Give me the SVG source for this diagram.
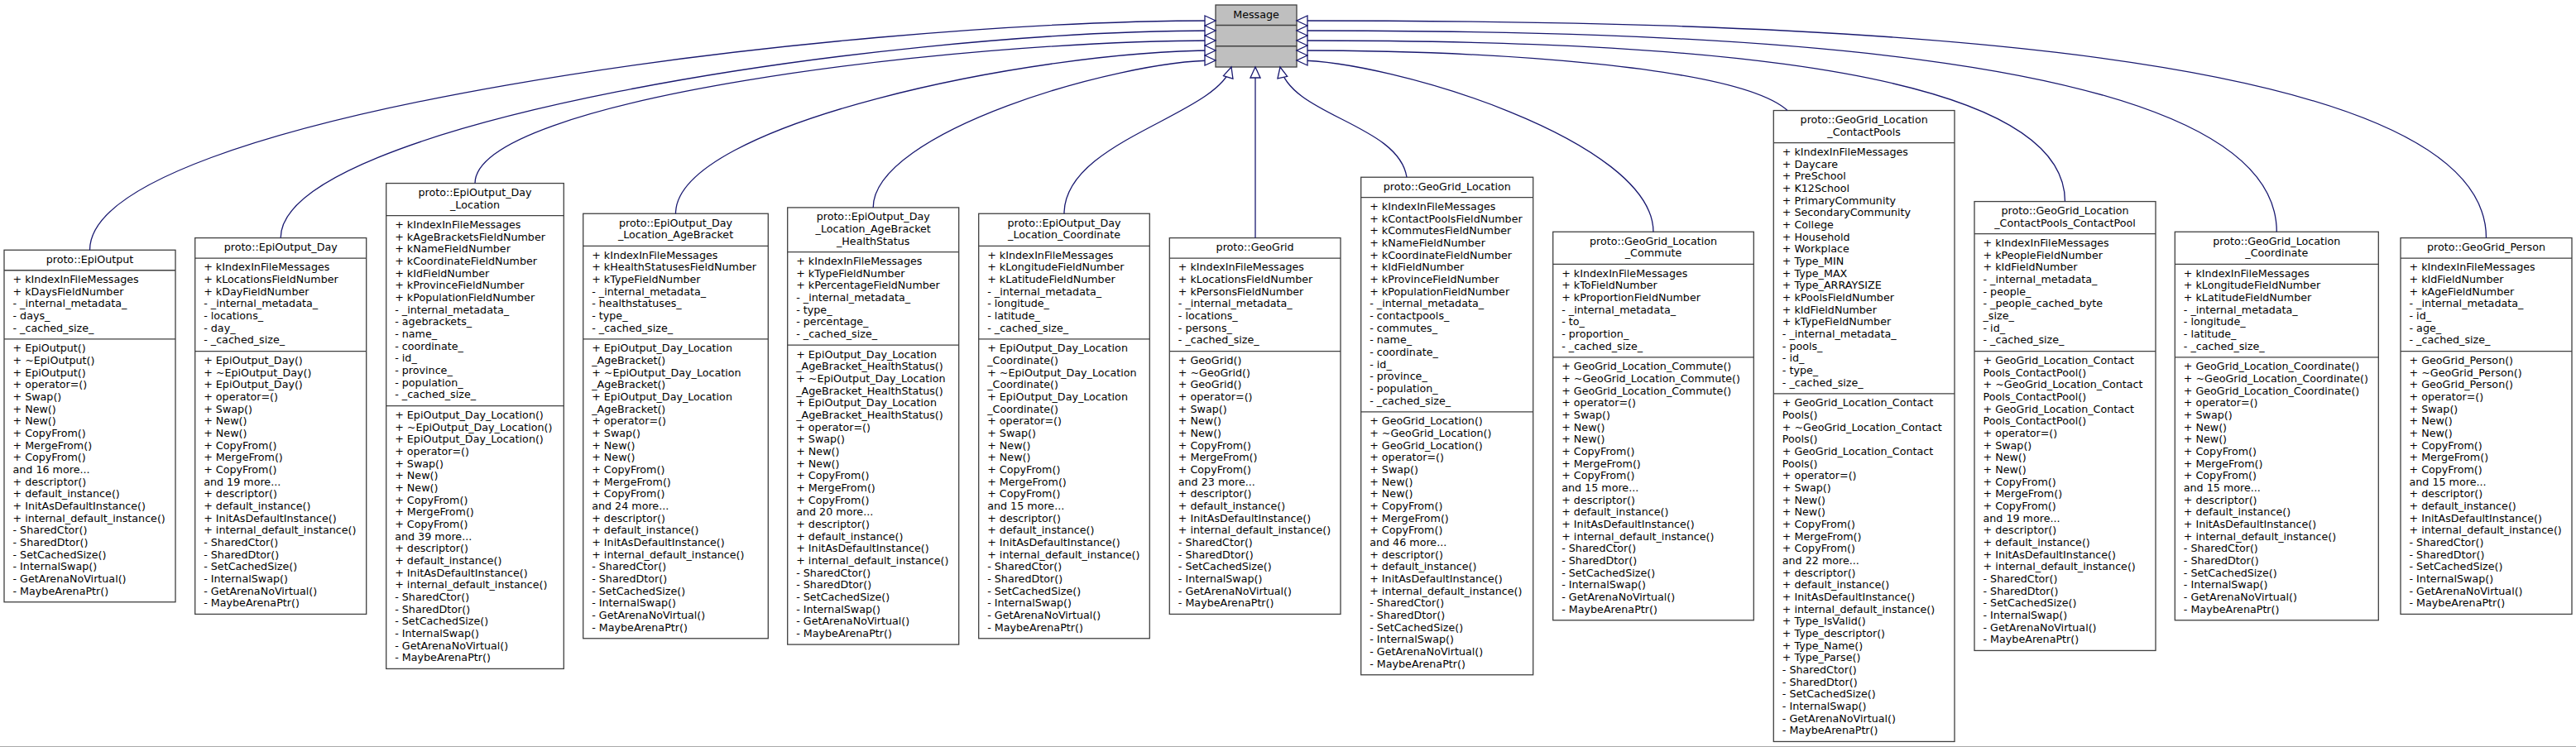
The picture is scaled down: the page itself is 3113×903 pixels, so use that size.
<svg xmlns="http://www.w3.org/2000/svg" width="3113" height="903" viewBox="0 0 3113 903">
<style>
.b{fill:#fff;stroke:#404040;stroke-width:1.3}
.m{fill:#bfbfbf;stroke:#404040;stroke-width:1.3}
.d{stroke:#404040;stroke-width:1.3;fill:none}
text{font-family:"DejaVu Sans",Verdana,sans-serif;font-size:12.7px;fill:#000}
.h{text-anchor:middle}
.e{fill:none;stroke:#191970;stroke-width:1.3;marker-end:url(#arr)}
</style>
<defs>
<marker id="arr" markerUnits="userSpaceOnUse" markerWidth="16" markerHeight="14" refX="13" refY="6" orient="auto" viewBox="-1 -1 16 14"><path d="M0,0 L13,6 L0,12 Z" fill="#fff" stroke="#191970" stroke-width="1.3"/></marker>
</defs>
<rect width="3113" height="903" fill="#fff"/>
<line x1="0" y1="902.5" x2="3113" y2="902.5" stroke="#aaa" stroke-width="1"/>

<g id="Message">
<rect class="m" x="1469" y="6" width="98" height="75"/>
<path class="d" d="M1469,30.5H1567M1469,55.75H1567"/>
<text class="h" x="1518" y="21.9">Message</text>
</g>

<g id="EpiOutput">
<rect class="b" x="5" y="302.26" width="207" height="425.49"/>
<path class="d" d="M5,326.73H212M5,409.88H212"/>
<text class="h" x="108.5" y="317.66">proto::EpiOutput</text>
<text x="15.5" y="342.13"><tspan>+ kIndexInFileMessages</tspan><tspan x="15.5" dy="14.67">+ kDaysFieldNumber</tspan><tspan x="15.5" dy="14.67">- _internal_metadata_</tspan><tspan x="15.5" dy="14.67">- days_</tspan><tspan x="15.5" dy="14.67">- _cached_size_</tspan></text>
<text x="15.5" y="425.28"><tspan>+ EpiOutput()</tspan><tspan x="15.5" dy="14.67">+ ~EpiOutput()</tspan><tspan x="15.5" dy="14.67">+ EpiOutput()</tspan><tspan x="15.5" dy="14.67">+ operator=()</tspan><tspan x="15.5" dy="14.67">+ Swap()</tspan><tspan x="15.5" dy="14.67">+ New()</tspan><tspan x="15.5" dy="14.67">+ New()</tspan><tspan x="15.5" dy="14.67">+ CopyFrom()</tspan><tspan x="15.5" dy="14.67">+ MergeFrom()</tspan><tspan x="15.5" dy="14.67">+ CopyFrom()</tspan><tspan x="15.5" dy="14.67">and 16 more...</tspan><tspan x="15.5" dy="14.67">+ descriptor()</tspan><tspan x="15.5" dy="14.67">+ default_instance()</tspan><tspan x="15.5" dy="14.67">+ InitAsDefaultInstance()</tspan><tspan x="15.5" dy="14.67">+ internal_default_instance()</tspan><tspan x="15.5" dy="14.67">- SharedCtor()</tspan><tspan x="15.5" dy="14.67">- SharedDtor()</tspan><tspan x="15.5" dy="14.67">- SetCachedSize()</tspan><tspan x="15.5" dy="14.67">- InternalSwap()</tspan><tspan x="15.5" dy="14.67">- GetArenaNoVirtual()</tspan><tspan x="15.5" dy="14.67">- MaybeArenaPtr()</tspan></text>
</g>

<g id="EpiOutput_Day">
<rect class="b" x="235.7" y="287.59" width="207" height="454.83"/>
<path class="d" d="M235.7,312.06H442.7M235.7,424.55H442.7"/>
<text class="h" x="339.2" y="302.99">proto::EpiOutput_Day</text>
<text x="246.2" y="327.46"><tspan>+ kIndexInFileMessages</tspan><tspan x="246.2" dy="14.67">+ kLocationsFieldNumber</tspan><tspan x="246.2" dy="14.67">+ kDayFieldNumber</tspan><tspan x="246.2" dy="14.67">- _internal_metadata_</tspan><tspan x="246.2" dy="14.67">- locations_</tspan><tspan x="246.2" dy="14.67">- day_</tspan><tspan x="246.2" dy="14.67">- _cached_size_</tspan></text>
<text x="246.2" y="439.95"><tspan>+ EpiOutput_Day()</tspan><tspan x="246.2" dy="14.67">+ ~EpiOutput_Day()</tspan><tspan x="246.2" dy="14.67">+ EpiOutput_Day()</tspan><tspan x="246.2" dy="14.67">+ operator=()</tspan><tspan x="246.2" dy="14.67">+ Swap()</tspan><tspan x="246.2" dy="14.67">+ New()</tspan><tspan x="246.2" dy="14.67">+ New()</tspan><tspan x="246.2" dy="14.67">+ CopyFrom()</tspan><tspan x="246.2" dy="14.67">+ MergeFrom()</tspan><tspan x="246.2" dy="14.67">+ CopyFrom()</tspan><tspan x="246.2" dy="14.67">and 19 more...</tspan><tspan x="246.2" dy="14.67">+ descriptor()</tspan><tspan x="246.2" dy="14.67">+ default_instance()</tspan><tspan x="246.2" dy="14.67">+ InitAsDefaultInstance()</tspan><tspan x="246.2" dy="14.67">+ internal_default_instance()</tspan><tspan x="246.2" dy="14.67">- SharedCtor()</tspan><tspan x="246.2" dy="14.67">- SharedDtor()</tspan><tspan x="246.2" dy="14.67">- SetCachedSize()</tspan><tspan x="246.2" dy="14.67">- InternalSwap()</tspan><tspan x="246.2" dy="14.67">- GetArenaNoVirtual()</tspan><tspan x="246.2" dy="14.67">- MaybeArenaPtr()</tspan></text>
</g>

<g id="EpiOutput_Day_Location">
<rect class="b" x="466.7" y="221.57" width="214.6" height="586.86"/>
<path class="d" d="M466.7,260.71H681.3M466.7,490.56H681.3"/>
<text class="h" x="574" y="236.97"><tspan>proto::EpiOutput_Day</tspan><tspan x="574" dy="14.67">_Location</tspan></text>
<text x="477.2" y="276.11"><tspan>+ kIndexInFileMessages</tspan><tspan x="477.2" dy="14.67">+ kAgeBracketsFieldNumber</tspan><tspan x="477.2" dy="14.67">+ kNameFieldNumber</tspan><tspan x="477.2" dy="14.67">+ kCoordinateFieldNumber</tspan><tspan x="477.2" dy="14.67">+ kIdFieldNumber</tspan><tspan x="477.2" dy="14.67">+ kProvinceFieldNumber</tspan><tspan x="477.2" dy="14.67">+ kPopulationFieldNumber</tspan><tspan x="477.2" dy="14.67">- _internal_metadata_</tspan><tspan x="477.2" dy="14.67">- agebrackets_</tspan><tspan x="477.2" dy="14.67">- name_</tspan><tspan x="477.2" dy="14.67">- coordinate_</tspan><tspan x="477.2" dy="14.67">- id_</tspan><tspan x="477.2" dy="14.67">- province_</tspan><tspan x="477.2" dy="14.67">- population_</tspan><tspan x="477.2" dy="14.67">- _cached_size_</tspan></text>
<text x="477.2" y="505.96"><tspan>+ EpiOutput_Day_Location()</tspan><tspan x="477.2" dy="14.67">+ ~EpiOutput_Day_Location()</tspan><tspan x="477.2" dy="14.67">+ EpiOutput_Day_Location()</tspan><tspan x="477.2" dy="14.67">+ operator=()</tspan><tspan x="477.2" dy="14.67">+ Swap()</tspan><tspan x="477.2" dy="14.67">+ New()</tspan><tspan x="477.2" dy="14.67">+ New()</tspan><tspan x="477.2" dy="14.67">+ CopyFrom()</tspan><tspan x="477.2" dy="14.67">+ MergeFrom()</tspan><tspan x="477.2" dy="14.67">+ CopyFrom()</tspan><tspan x="477.2" dy="14.67">and 39 more...</tspan><tspan x="477.2" dy="14.67">+ descriptor()</tspan><tspan x="477.2" dy="14.67">+ default_instance()</tspan><tspan x="477.2" dy="14.67">+ InitAsDefaultInstance()</tspan><tspan x="477.2" dy="14.67">+ internal_default_instance()</tspan><tspan x="477.2" dy="14.67">- SharedCtor()</tspan><tspan x="477.2" dy="14.67">- SharedDtor()</tspan><tspan x="477.2" dy="14.67">- SetCachedSize()</tspan><tspan x="477.2" dy="14.67">- InternalSwap()</tspan><tspan x="477.2" dy="14.67">- GetArenaNoVirtual()</tspan><tspan x="477.2" dy="14.67">- MaybeArenaPtr()</tspan></text>
</g>

<g id="EpiOutput_Day_Location_AgeBracket">
<rect class="b" x="704.7" y="258.25" width="223.6" height="513.51"/>
<path class="d" d="M704.7,297.39H928.3M704.7,409.88H928.3"/>
<text class="h" x="816.5" y="273.65"><tspan>proto::EpiOutput_Day</tspan><tspan x="816.5" dy="14.67">_Location_AgeBracket</tspan></text>
<text x="715.2" y="312.79"><tspan>+ kIndexInFileMessages</tspan><tspan x="715.2" dy="14.67">+ kHealthStatusesFieldNumber</tspan><tspan x="715.2" dy="14.67">+ kTypeFieldNumber</tspan><tspan x="715.2" dy="14.67">- _internal_metadata_</tspan><tspan x="715.2" dy="14.67">- healthstatuses_</tspan><tspan x="715.2" dy="14.67">- type_</tspan><tspan x="715.2" dy="14.67">- _cached_size_</tspan></text>
<text x="715.2" y="425.28"><tspan>+ EpiOutput_Day_Location</tspan><tspan x="715.2" dy="14.67">_AgeBracket()</tspan><tspan x="715.2" dy="14.67">+ ~EpiOutput_Day_Location</tspan><tspan x="715.2" dy="14.67">_AgeBracket()</tspan><tspan x="715.2" dy="14.67">+ EpiOutput_Day_Location</tspan><tspan x="715.2" dy="14.67">_AgeBracket()</tspan><tspan x="715.2" dy="14.67">+ operator=()</tspan><tspan x="715.2" dy="14.67">+ Swap()</tspan><tspan x="715.2" dy="14.67">+ New()</tspan><tspan x="715.2" dy="14.67">+ New()</tspan><tspan x="715.2" dy="14.67">+ CopyFrom()</tspan><tspan x="715.2" dy="14.67">+ MergeFrom()</tspan><tspan x="715.2" dy="14.67">+ CopyFrom()</tspan><tspan x="715.2" dy="14.67">and 24 more...</tspan><tspan x="715.2" dy="14.67">+ descriptor()</tspan><tspan x="715.2" dy="14.67">+ default_instance()</tspan><tspan x="715.2" dy="14.67">+ InitAsDefaultInstance()</tspan><tspan x="715.2" dy="14.67">+ internal_default_instance()</tspan><tspan x="715.2" dy="14.67">- SharedCtor()</tspan><tspan x="715.2" dy="14.67">- SharedDtor()</tspan><tspan x="715.2" dy="14.67">- SetCachedSize()</tspan><tspan x="715.2" dy="14.67">- InternalSwap()</tspan><tspan x="715.2" dy="14.67">- GetArenaNoVirtual()</tspan><tspan x="715.2" dy="14.67">- MaybeArenaPtr()</tspan></text>
</g>

<g id="EpiOutput_Day_Location_AgeBracket_HealthStatus">
<rect class="b" x="951.7" y="250.91" width="207" height="528.18"/>
<path class="d" d="M951.7,304.72H1158.7M951.7,417.21H1158.7"/>
<text class="h" x="1055.2" y="266.31"><tspan>proto::EpiOutput_Day</tspan><tspan x="1055.2" dy="14.67">_Location_AgeBracket</tspan><tspan x="1055.2" dy="14.67">_HealthStatus</tspan></text>
<text x="962.2" y="320.12"><tspan>+ kIndexInFileMessages</tspan><tspan x="962.2" dy="14.67">+ kTypeFieldNumber</tspan><tspan x="962.2" dy="14.67">+ kPercentageFieldNumber</tspan><tspan x="962.2" dy="14.67">- _internal_metadata_</tspan><tspan x="962.2" dy="14.67">- type_</tspan><tspan x="962.2" dy="14.67">- percentage_</tspan><tspan x="962.2" dy="14.67">- _cached_size_</tspan></text>
<text x="962.2" y="432.61"><tspan>+ EpiOutput_Day_Location</tspan><tspan x="962.2" dy="14.67">_AgeBracket_HealthStatus()</tspan><tspan x="962.2" dy="14.67">+ ~EpiOutput_Day_Location</tspan><tspan x="962.2" dy="14.67">_AgeBracket_HealthStatus()</tspan><tspan x="962.2" dy="14.67">+ EpiOutput_Day_Location</tspan><tspan x="962.2" dy="14.67">_AgeBracket_HealthStatus()</tspan><tspan x="962.2" dy="14.67">+ operator=()</tspan><tspan x="962.2" dy="14.67">+ Swap()</tspan><tspan x="962.2" dy="14.67">+ New()</tspan><tspan x="962.2" dy="14.67">+ New()</tspan><tspan x="962.2" dy="14.67">+ CopyFrom()</tspan><tspan x="962.2" dy="14.67">+ MergeFrom()</tspan><tspan x="962.2" dy="14.67">+ CopyFrom()</tspan><tspan x="962.2" dy="14.67">and 20 more...</tspan><tspan x="962.2" dy="14.67">+ descriptor()</tspan><tspan x="962.2" dy="14.67">+ default_instance()</tspan><tspan x="962.2" dy="14.67">+ InitAsDefaultInstance()</tspan><tspan x="962.2" dy="14.67">+ internal_default_instance()</tspan><tspan x="962.2" dy="14.67">- SharedCtor()</tspan><tspan x="962.2" dy="14.67">- SharedDtor()</tspan><tspan x="962.2" dy="14.67">- SetCachedSize()</tspan><tspan x="962.2" dy="14.67">- InternalSwap()</tspan><tspan x="962.2" dy="14.67">- GetArenaNoVirtual()</tspan><tspan x="962.2" dy="14.67">- MaybeArenaPtr()</tspan></text>
</g>

<g id="EpiOutput_Day_Location_Coordinate">
<rect class="b" x="1182.7" y="258.25" width="206.6" height="513.51"/>
<path class="d" d="M1182.7,297.39H1389.3M1182.7,409.88H1389.3"/>
<text class="h" x="1286" y="273.65"><tspan>proto::EpiOutput_Day</tspan><tspan x="1286" dy="14.67">_Location_Coordinate</tspan></text>
<text x="1193.2" y="312.79"><tspan>+ kIndexInFileMessages</tspan><tspan x="1193.2" dy="14.67">+ kLongitudeFieldNumber</tspan><tspan x="1193.2" dy="14.67">+ kLatitudeFieldNumber</tspan><tspan x="1193.2" dy="14.67">- _internal_metadata_</tspan><tspan x="1193.2" dy="14.67">- longitude_</tspan><tspan x="1193.2" dy="14.67">- latitude_</tspan><tspan x="1193.2" dy="14.67">- _cached_size_</tspan></text>
<text x="1193.2" y="425.28"><tspan>+ EpiOutput_Day_Location</tspan><tspan x="1193.2" dy="14.67">_Coordinate()</tspan><tspan x="1193.2" dy="14.67">+ ~EpiOutput_Day_Location</tspan><tspan x="1193.2" dy="14.67">_Coordinate()</tspan><tspan x="1193.2" dy="14.67">+ EpiOutput_Day_Location</tspan><tspan x="1193.2" dy="14.67">_Coordinate()</tspan><tspan x="1193.2" dy="14.67">+ operator=()</tspan><tspan x="1193.2" dy="14.67">+ Swap()</tspan><tspan x="1193.2" dy="14.67">+ New()</tspan><tspan x="1193.2" dy="14.67">+ New()</tspan><tspan x="1193.2" dy="14.67">+ CopyFrom()</tspan><tspan x="1193.2" dy="14.67">+ MergeFrom()</tspan><tspan x="1193.2" dy="14.67">+ CopyFrom()</tspan><tspan x="1193.2" dy="14.67">and 15 more...</tspan><tspan x="1193.2" dy="14.67">+ descriptor()</tspan><tspan x="1193.2" dy="14.67">+ default_instance()</tspan><tspan x="1193.2" dy="14.67">+ InitAsDefaultInstance()</tspan><tspan x="1193.2" dy="14.67">+ internal_default_instance()</tspan><tspan x="1193.2" dy="14.67">- SharedCtor()</tspan><tspan x="1193.2" dy="14.67">- SharedDtor()</tspan><tspan x="1193.2" dy="14.67">- SetCachedSize()</tspan><tspan x="1193.2" dy="14.67">- InternalSwap()</tspan><tspan x="1193.2" dy="14.67">- GetArenaNoVirtual()</tspan><tspan x="1193.2" dy="14.67">- MaybeArenaPtr()</tspan></text>
</g>

<g id="GeoGrid">
<rect class="b" x="1413.3" y="287.59" width="206.7" height="454.83"/>
<path class="d" d="M1413.3,312.06H1620M1413.3,424.55H1620"/>
<text class="h" x="1516.65" y="302.99">proto::GeoGrid</text>
<text x="1423.8" y="327.46"><tspan>+ kIndexInFileMessages</tspan><tspan x="1423.8" dy="14.67">+ kLocationsFieldNumber</tspan><tspan x="1423.8" dy="14.67">+ kPersonsFieldNumber</tspan><tspan x="1423.8" dy="14.67">- _internal_metadata_</tspan><tspan x="1423.8" dy="14.67">- locations_</tspan><tspan x="1423.8" dy="14.67">- persons_</tspan><tspan x="1423.8" dy="14.67">- _cached_size_</tspan></text>
<text x="1423.8" y="439.95"><tspan>+ GeoGrid()</tspan><tspan x="1423.8" dy="14.67">+ ~GeoGrid()</tspan><tspan x="1423.8" dy="14.67">+ GeoGrid()</tspan><tspan x="1423.8" dy="14.67">+ operator=()</tspan><tspan x="1423.8" dy="14.67">+ Swap()</tspan><tspan x="1423.8" dy="14.67">+ New()</tspan><tspan x="1423.8" dy="14.67">+ New()</tspan><tspan x="1423.8" dy="14.67">+ CopyFrom()</tspan><tspan x="1423.8" dy="14.67">+ MergeFrom()</tspan><tspan x="1423.8" dy="14.67">+ CopyFrom()</tspan><tspan x="1423.8" dy="14.67">and 23 more...</tspan><tspan x="1423.8" dy="14.67">+ descriptor()</tspan><tspan x="1423.8" dy="14.67">+ default_instance()</tspan><tspan x="1423.8" dy="14.67">+ InitAsDefaultInstance()</tspan><tspan x="1423.8" dy="14.67">+ internal_default_instance()</tspan><tspan x="1423.8" dy="14.67">- SharedCtor()</tspan><tspan x="1423.8" dy="14.67">- SharedDtor()</tspan><tspan x="1423.8" dy="14.67">- SetCachedSize()</tspan><tspan x="1423.8" dy="14.67">- InternalSwap()</tspan><tspan x="1423.8" dy="14.67">- GetArenaNoVirtual()</tspan><tspan x="1423.8" dy="14.67">- MaybeArenaPtr()</tspan></text>
</g>

<g id="GeoGrid_Location">
<rect class="b" x="1644.7" y="214.24" width="208" height="601.53"/>
<path class="d" d="M1644.7,238.71H1852.7M1644.7,497.9H1852.7"/>
<text class="h" x="1748.7" y="229.64">proto::GeoGrid_Location</text>
<text x="1655.2" y="254.11"><tspan>+ kIndexInFileMessages</tspan><tspan x="1655.2" dy="14.67">+ kContactPoolsFieldNumber</tspan><tspan x="1655.2" dy="14.67">+ kCommutesFieldNumber</tspan><tspan x="1655.2" dy="14.67">+ kNameFieldNumber</tspan><tspan x="1655.2" dy="14.67">+ kCoordinateFieldNumber</tspan><tspan x="1655.2" dy="14.67">+ kIdFieldNumber</tspan><tspan x="1655.2" dy="14.67">+ kProvinceFieldNumber</tspan><tspan x="1655.2" dy="14.67">+ kPopulationFieldNumber</tspan><tspan x="1655.2" dy="14.67">- _internal_metadata_</tspan><tspan x="1655.2" dy="14.67">- contactpools_</tspan><tspan x="1655.2" dy="14.67">- commutes_</tspan><tspan x="1655.2" dy="14.67">- name_</tspan><tspan x="1655.2" dy="14.67">- coordinate_</tspan><tspan x="1655.2" dy="14.67">- id_</tspan><tspan x="1655.2" dy="14.67">- province_</tspan><tspan x="1655.2" dy="14.67">- population_</tspan><tspan x="1655.2" dy="14.67">- _cached_size_</tspan></text>
<text x="1655.2" y="513.3"><tspan>+ GeoGrid_Location()</tspan><tspan x="1655.2" dy="14.67">+ ~GeoGrid_Location()</tspan><tspan x="1655.2" dy="14.67">+ GeoGrid_Location()</tspan><tspan x="1655.2" dy="14.67">+ operator=()</tspan><tspan x="1655.2" dy="14.67">+ Swap()</tspan><tspan x="1655.2" dy="14.67">+ New()</tspan><tspan x="1655.2" dy="14.67">+ New()</tspan><tspan x="1655.2" dy="14.67">+ CopyFrom()</tspan><tspan x="1655.2" dy="14.67">+ MergeFrom()</tspan><tspan x="1655.2" dy="14.67">+ CopyFrom()</tspan><tspan x="1655.2" dy="14.67">and 46 more...</tspan><tspan x="1655.2" dy="14.67">+ descriptor()</tspan><tspan x="1655.2" dy="14.67">+ default_instance()</tspan><tspan x="1655.2" dy="14.67">+ InitAsDefaultInstance()</tspan><tspan x="1655.2" dy="14.67">+ internal_default_instance()</tspan><tspan x="1655.2" dy="14.67">- SharedCtor()</tspan><tspan x="1655.2" dy="14.67">- SharedDtor()</tspan><tspan x="1655.2" dy="14.67">- SetCachedSize()</tspan><tspan x="1655.2" dy="14.67">- InternalSwap()</tspan><tspan x="1655.2" dy="14.67">- GetArenaNoVirtual()</tspan><tspan x="1655.2" dy="14.67">- MaybeArenaPtr()</tspan></text>
</g>

<g id="GeoGrid_Location_Commute">
<rect class="b" x="1876.7" y="280.25" width="242.6" height="469.5"/>
<path class="d" d="M1876.7,319.39H2119.3M1876.7,431.88H2119.3"/>
<text class="h" x="1998" y="295.65"><tspan>proto::GeoGrid_Location</tspan><tspan x="1998" dy="14.67">_Commute</tspan></text>
<text x="1887.2" y="334.79"><tspan>+ kIndexInFileMessages</tspan><tspan x="1887.2" dy="14.67">+ kToFieldNumber</tspan><tspan x="1887.2" dy="14.67">+ kProportionFieldNumber</tspan><tspan x="1887.2" dy="14.67">- _internal_metadata_</tspan><tspan x="1887.2" dy="14.67">- to_</tspan><tspan x="1887.2" dy="14.67">- proportion_</tspan><tspan x="1887.2" dy="14.67">- _cached_size_</tspan></text>
<text x="1887.2" y="447.28"><tspan>+ GeoGrid_Location_Commute()</tspan><tspan x="1887.2" dy="14.67">+ ~GeoGrid_Location_Commute()</tspan><tspan x="1887.2" dy="14.67">+ GeoGrid_Location_Commute()</tspan><tspan x="1887.2" dy="14.67">+ operator=()</tspan><tspan x="1887.2" dy="14.67">+ Swap()</tspan><tspan x="1887.2" dy="14.67">+ New()</tspan><tspan x="1887.2" dy="14.67">+ New()</tspan><tspan x="1887.2" dy="14.67">+ CopyFrom()</tspan><tspan x="1887.2" dy="14.67">+ MergeFrom()</tspan><tspan x="1887.2" dy="14.67">+ CopyFrom()</tspan><tspan x="1887.2" dy="14.67">and 15 more...</tspan><tspan x="1887.2" dy="14.67">+ descriptor()</tspan><tspan x="1887.2" dy="14.67">+ default_instance()</tspan><tspan x="1887.2" dy="14.67">+ InitAsDefaultInstance()</tspan><tspan x="1887.2" dy="14.67">+ internal_default_instance()</tspan><tspan x="1887.2" dy="14.67">- SharedCtor()</tspan><tspan x="1887.2" dy="14.67">- SharedDtor()</tspan><tspan x="1887.2" dy="14.67">- SetCachedSize()</tspan><tspan x="1887.2" dy="14.67">- InternalSwap()</tspan><tspan x="1887.2" dy="14.67">- GetArenaNoVirtual()</tspan><tspan x="1887.2" dy="14.67">- MaybeArenaPtr()</tspan></text>
</g>

<g id="GeoGrid_Location_ContactPools">
<rect class="b" x="2143.3" y="133.55" width="218.7" height="762.9"/>
<path class="d" d="M2143.3,172.69H2362M2143.3,475.89H2362"/>
<text class="h" x="2252.65" y="148.95"><tspan>proto::GeoGrid_Location</tspan><tspan x="2252.65" dy="14.67">_ContactPools</tspan></text>
<text x="2153.8" y="188.09"><tspan>+ kIndexInFileMessages</tspan><tspan x="2153.8" dy="14.67">+ Daycare</tspan><tspan x="2153.8" dy="14.67">+ PreSchool</tspan><tspan x="2153.8" dy="14.67">+ K12School</tspan><tspan x="2153.8" dy="14.67">+ PrimaryCommunity</tspan><tspan x="2153.8" dy="14.67">+ SecondaryCommunity</tspan><tspan x="2153.8" dy="14.67">+ College</tspan><tspan x="2153.8" dy="14.67">+ Household</tspan><tspan x="2153.8" dy="14.67">+ Workplace</tspan><tspan x="2153.8" dy="14.67">+ Type_MIN</tspan><tspan x="2153.8" dy="14.67">+ Type_MAX</tspan><tspan x="2153.8" dy="14.67">+ Type_ARRAYSIZE</tspan><tspan x="2153.8" dy="14.67">+ kPoolsFieldNumber</tspan><tspan x="2153.8" dy="14.67">+ kIdFieldNumber</tspan><tspan x="2153.8" dy="14.67">+ kTypeFieldNumber</tspan><tspan x="2153.8" dy="14.67">- _internal_metadata_</tspan><tspan x="2153.8" dy="14.67">- pools_</tspan><tspan x="2153.8" dy="14.67">- id_</tspan><tspan x="2153.8" dy="14.67">- type_</tspan><tspan x="2153.8" dy="14.67">- _cached_size_</tspan></text>
<text x="2153.8" y="491.29"><tspan>+ GeoGrid_Location_Contact</tspan><tspan x="2153.8" dy="14.67">Pools()</tspan><tspan x="2153.8" dy="14.67">+ ~GeoGrid_Location_Contact</tspan><tspan x="2153.8" dy="14.67">Pools()</tspan><tspan x="2153.8" dy="14.67">+ GeoGrid_Location_Contact</tspan><tspan x="2153.8" dy="14.67">Pools()</tspan><tspan x="2153.8" dy="14.67">+ operator=()</tspan><tspan x="2153.8" dy="14.67">+ Swap()</tspan><tspan x="2153.8" dy="14.67">+ New()</tspan><tspan x="2153.8" dy="14.67">+ New()</tspan><tspan x="2153.8" dy="14.67">+ CopyFrom()</tspan><tspan x="2153.8" dy="14.67">+ MergeFrom()</tspan><tspan x="2153.8" dy="14.67">+ CopyFrom()</tspan><tspan x="2153.8" dy="14.67">and 22 more...</tspan><tspan x="2153.8" dy="14.67">+ descriptor()</tspan><tspan x="2153.8" dy="14.67">+ default_instance()</tspan><tspan x="2153.8" dy="14.67">+ InitAsDefaultInstance()</tspan><tspan x="2153.8" dy="14.67">+ internal_default_instance()</tspan><tspan x="2153.8" dy="14.67">+ Type_IsValid()</tspan><tspan x="2153.8" dy="14.67">+ Type_descriptor()</tspan><tspan x="2153.8" dy="14.67">+ Type_Name()</tspan><tspan x="2153.8" dy="14.67">+ Type_Parse()</tspan><tspan x="2153.8" dy="14.67">- SharedCtor()</tspan><tspan x="2153.8" dy="14.67">- SharedDtor()</tspan><tspan x="2153.8" dy="14.67">- SetCachedSize()</tspan><tspan x="2153.8" dy="14.67">- InternalSwap()</tspan><tspan x="2153.8" dy="14.67">- GetArenaNoVirtual()</tspan><tspan x="2153.8" dy="14.67">- MaybeArenaPtr()</tspan></text>
</g>

<g id="GeoGrid_Location_ContactPools_ContactPool">
<rect class="b" x="2386" y="243.58" width="219" height="542.85"/>
<path class="d" d="M2386,282.72H2605M2386,424.55H2605"/>
<text class="h" x="2495.5" y="258.98"><tspan>proto::GeoGrid_Location</tspan><tspan x="2495.5" dy="14.67">_ContactPools_ContactPool</tspan></text>
<text x="2396.5" y="298.12"><tspan>+ kIndexInFileMessages</tspan><tspan x="2396.5" dy="14.67">+ kPeopleFieldNumber</tspan><tspan x="2396.5" dy="14.67">+ kIdFieldNumber</tspan><tspan x="2396.5" dy="14.67">- _internal_metadata_</tspan><tspan x="2396.5" dy="14.67">- people_</tspan><tspan x="2396.5" dy="14.67">- _people_cached_byte</tspan><tspan x="2396.5" dy="14.67">_size_</tspan><tspan x="2396.5" dy="14.67">- id_</tspan><tspan x="2396.5" dy="14.67">- _cached_size_</tspan></text>
<text x="2396.5" y="439.95"><tspan>+ GeoGrid_Location_Contact</tspan><tspan x="2396.5" dy="14.67">Pools_ContactPool()</tspan><tspan x="2396.5" dy="14.67">+ ~GeoGrid_Location_Contact</tspan><tspan x="2396.5" dy="14.67">Pools_ContactPool()</tspan><tspan x="2396.5" dy="14.67">+ GeoGrid_Location_Contact</tspan><tspan x="2396.5" dy="14.67">Pools_ContactPool()</tspan><tspan x="2396.5" dy="14.67">+ operator=()</tspan><tspan x="2396.5" dy="14.67">+ Swap()</tspan><tspan x="2396.5" dy="14.67">+ New()</tspan><tspan x="2396.5" dy="14.67">+ New()</tspan><tspan x="2396.5" dy="14.67">+ CopyFrom()</tspan><tspan x="2396.5" dy="14.67">+ MergeFrom()</tspan><tspan x="2396.5" dy="14.67">+ CopyFrom()</tspan><tspan x="2396.5" dy="14.67">and 19 more...</tspan><tspan x="2396.5" dy="14.67">+ descriptor()</tspan><tspan x="2396.5" dy="14.67">+ default_instance()</tspan><tspan x="2396.5" dy="14.67">+ InitAsDefaultInstance()</tspan><tspan x="2396.5" dy="14.67">+ internal_default_instance()</tspan><tspan x="2396.5" dy="14.67">- SharedCtor()</tspan><tspan x="2396.5" dy="14.67">- SharedDtor()</tspan><tspan x="2396.5" dy="14.67">- SetCachedSize()</tspan><tspan x="2396.5" dy="14.67">- InternalSwap()</tspan><tspan x="2396.5" dy="14.67">- GetArenaNoVirtual()</tspan><tspan x="2396.5" dy="14.67">- MaybeArenaPtr()</tspan></text>
</g>

<g id="GeoGrid_Location_Coordinate">
<rect class="b" x="2628.3" y="280.25" width="246" height="469.5"/>
<path class="d" d="M2628.3,319.39H2874.3M2628.3,431.88H2874.3"/>
<text class="h" x="2751.3" y="295.65"><tspan>proto::GeoGrid_Location</tspan><tspan x="2751.3" dy="14.67">_Coordinate</tspan></text>
<text x="2638.8" y="334.79"><tspan>+ kIndexInFileMessages</tspan><tspan x="2638.8" dy="14.67">+ kLongitudeFieldNumber</tspan><tspan x="2638.8" dy="14.67">+ kLatitudeFieldNumber</tspan><tspan x="2638.8" dy="14.67">- _internal_metadata_</tspan><tspan x="2638.8" dy="14.67">- longitude_</tspan><tspan x="2638.8" dy="14.67">- latitude_</tspan><tspan x="2638.8" dy="14.67">- _cached_size_</tspan></text>
<text x="2638.8" y="447.28"><tspan>+ GeoGrid_Location_Coordinate()</tspan><tspan x="2638.8" dy="14.67">+ ~GeoGrid_Location_Coordinate()</tspan><tspan x="2638.8" dy="14.67">+ GeoGrid_Location_Coordinate()</tspan><tspan x="2638.8" dy="14.67">+ operator=()</tspan><tspan x="2638.8" dy="14.67">+ Swap()</tspan><tspan x="2638.8" dy="14.67">+ New()</tspan><tspan x="2638.8" dy="14.67">+ New()</tspan><tspan x="2638.8" dy="14.67">+ CopyFrom()</tspan><tspan x="2638.8" dy="14.67">+ MergeFrom()</tspan><tspan x="2638.8" dy="14.67">+ CopyFrom()</tspan><tspan x="2638.8" dy="14.67">and 15 more...</tspan><tspan x="2638.8" dy="14.67">+ descriptor()</tspan><tspan x="2638.8" dy="14.67">+ default_instance()</tspan><tspan x="2638.8" dy="14.67">+ InitAsDefaultInstance()</tspan><tspan x="2638.8" dy="14.67">+ internal_default_instance()</tspan><tspan x="2638.8" dy="14.67">- SharedCtor()</tspan><tspan x="2638.8" dy="14.67">- SharedDtor()</tspan><tspan x="2638.8" dy="14.67">- SetCachedSize()</tspan><tspan x="2638.8" dy="14.67">- InternalSwap()</tspan><tspan x="2638.8" dy="14.67">- GetArenaNoVirtual()</tspan><tspan x="2638.8" dy="14.67">- MaybeArenaPtr()</tspan></text>
</g>

<g id="GeoGrid_Person">
<rect class="b" x="2901" y="287.59" width="207" height="454.83"/>
<path class="d" d="M2901,312.06H3108M2901,424.55H3108"/>
<text class="h" x="3004.5" y="302.99">proto::GeoGrid_Person</text>
<text x="2911.5" y="327.46"><tspan>+ kIndexInFileMessages</tspan><tspan x="2911.5" dy="14.67">+ kIdFieldNumber</tspan><tspan x="2911.5" dy="14.67">+ kAgeFieldNumber</tspan><tspan x="2911.5" dy="14.67">- _internal_metadata_</tspan><tspan x="2911.5" dy="14.67">- id_</tspan><tspan x="2911.5" dy="14.67">- age_</tspan><tspan x="2911.5" dy="14.67">- _cached_size_</tspan></text>
<text x="2911.5" y="439.95"><tspan>+ GeoGrid_Person()</tspan><tspan x="2911.5" dy="14.67">+ ~GeoGrid_Person()</tspan><tspan x="2911.5" dy="14.67">+ GeoGrid_Person()</tspan><tspan x="2911.5" dy="14.67">+ operator=()</tspan><tspan x="2911.5" dy="14.67">+ Swap()</tspan><tspan x="2911.5" dy="14.67">+ New()</tspan><tspan x="2911.5" dy="14.67">+ New()</tspan><tspan x="2911.5" dy="14.67">+ CopyFrom()</tspan><tspan x="2911.5" dy="14.67">+ MergeFrom()</tspan><tspan x="2911.5" dy="14.67">+ CopyFrom()</tspan><tspan x="2911.5" dy="14.67">and 15 more...</tspan><tspan x="2911.5" dy="14.67">+ descriptor()</tspan><tspan x="2911.5" dy="14.67">+ default_instance()</tspan><tspan x="2911.5" dy="14.67">+ InitAsDefaultInstance()</tspan><tspan x="2911.5" dy="14.67">+ internal_default_instance()</tspan><tspan x="2911.5" dy="14.67">- SharedCtor()</tspan><tspan x="2911.5" dy="14.67">- SharedDtor()</tspan><tspan x="2911.5" dy="14.67">- SetCachedSize()</tspan><tspan x="2911.5" dy="14.67">- InternalSwap()</tspan><tspan x="2911.5" dy="14.67">- GetArenaNoVirtual()</tspan><tspan x="2911.5" dy="14.67">- MaybeArenaPtr()</tspan></text>
</g>

<g id="connectors">
<path class="e" d="M108.5,302.3 C108.5,140 1000,25 1469,25"/>
<path class="e" d="M339.2,287.6 C339.2,150 1050,37 1469,37"/>
<path class="e" d="M574,221.6 C574,120 1150,49 1469,49"/>
<path class="e" d="M816.5,258.3 C816.5,150 1250,61 1469,61"/>
<path class="e" d="M1055.2,250.9 C1055.2,160 1350,73 1469,73"/>
<path class="e" d="M1286,258.3 C1286,170 1470,140 1488,81"/>
<path class="e" d="M1517,287.6 L1517,81"/>
<path class="e" d="M1700,214.2 C1690,150 1560,140 1547,81"/>
<path class="e" d="M1998,280.3 C1998,170 1680,73 1567,73"/>
<path class="e" d="M2160,133.5 C2100,80 1800,61 1567,61"/>
<path class="e" d="M2495.5,243.6 C2495.5,60 1900,49 1567,49"/>
<path class="e" d="M2751.3,280.3 C2751.3,50 2000,37 1567,37"/>
<path class="e" d="M3004.5,287.6 C3004.5,40 2100,25 1567,25"/>
</g>
</svg>
